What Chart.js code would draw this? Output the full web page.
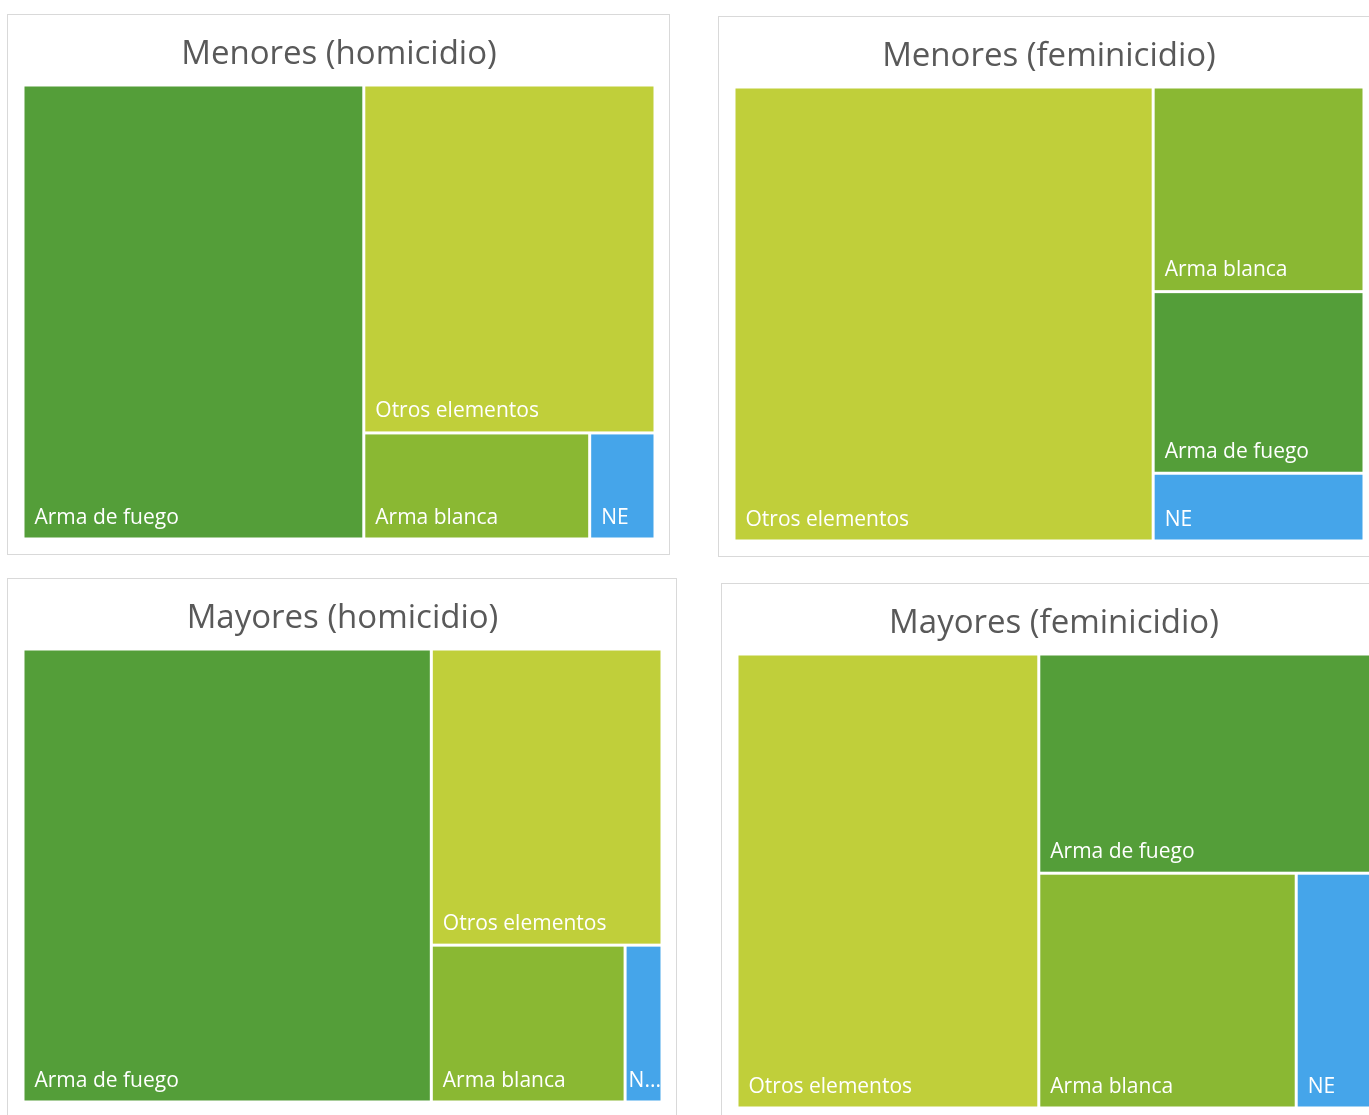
<!DOCTYPE html>
<html lang="es">
<head>
<meta charset="utf-8">
<title>Homicidios y feminicidios por tipo de arma</title>
<script src="https://cdn.jsdelivr.net/npm/chart.js@4.4.1/dist/chart.umd.min.js"></script>
<style>
  html, body { margin: 0; padding: 0; background: #fff; }
  body { width: 1369px; height: 1115px; position: relative; overflow: hidden; }
  .panel { position: absolute; border: 1px solid #d9d9d9; background: #fff; }
  .panel canvas { display: block; }
</style>
</head>
<body>
<div class="panel" style="left:7px; top:14px;"><canvas id="c1" width="661" height="539"></canvas></div>
<div class="panel" style="left:718px; top:16px;"><canvas id="c2" width="659" height="539"></canvas></div>
<div class="panel" style="left:7px; top:578px;"><canvas id="c3" width="668" height="538"></canvas></div>
<div class="panel" style="left:721px; top:583px;"><canvas id="c4" width="663" height="539"></canvas></div>

<script>
// Categorías y colores compartidos por los cuatro paneles
const categorias = ['Arma de fuego', 'Otros elementos', 'Arma blanca', 'NE'];
const colores = ['#549E39', '#C0CF3A', '#8AB833', '#45A5EA'];

// Porcentaje de casos por tipo de arma (mismo orden que categorias)
const menoresHomicidio = [53.6, 35.1, 8.3, 2.4];
const menoresFeminicidio = [13.4, 66.6, 15.1, 5.0];
const mayoresHomicidio = [63.9, 23.6, 10.5, 2.0];
const mayoresFeminicidio = [25.3, 47.6, 21.0, 6.1];

const titulos = ['Menores (homicidio)', 'Menores (feminicidio)', 'Mayores (homicidio)', 'Mayores (feminicidio)'];

const FONT = "'Open Sans', 'DejaVu Sans', sans-serif";

// peor relación de aspecto de una fila (algoritmo squarified)
function worst(row, side) {
    const s = row.reduce((a, r) => a + r.area, 0);
    let m = 0;
    row.forEach(r => {
        m = Math.max(m, (side * side * r.area) / (s * s), (s * s) / (side * side * r.area));
    });
    return m;
}

function squarify(items, w, h) {
    const total = items.reduce((a, it) => a + it.value, 0);
    let rest = items
        .map(it => ({ ...it, area: it.value * w * h / total }))
        .sort((a, b) => b.value - a.value);
    let x = 0, y = 0;
    const out = [];
    while (rest.length) {
        const side = Math.min(w, h);
        const row = [rest[0]];
        let i = 1;
        while (i < rest.length && worst(row.concat(rest[i]), side) <= worst(row, side)) {
            row.push(rest[i]);
            i++;
        }
        rest = rest.slice(row.length);
        const rowArea = row.reduce((a, r) => a + r.area, 0);
        if (w >= h) {
            const sw = rowArea / h;
            let cy = y;
            row.forEach(r => { const ch = r.area / sw; out.push({ ...r, x: x, y: cy, w: sw, h: ch }); cy += ch; });
            x += sw; w -= sw;
        } else {
            const sh = rowArea / w;
            let cx = x;
            row.forEach(r => { const cw = r.area / sh; out.push({ ...r, x: cx, y: y, w: cw, h: sh }); cx += cw; });
            y += sh; h -= sh;
        }
    }
    return out;
}

// recorta la etiqueta con "..." cuando no cabe en la celda
function fitText(ctx, text, maxW) {
    let t = text.slice(0, -1);
    while (t.length > 1 && ctx.measureText(t + '...').width > maxW) t = t.slice(0, -1);
    return t + '...';
}

// dibuja las celdas del treemap sobre las escalas x/y (0..1)
const treemapPlugin = {
    id: 'treemap',
    beforeDatasetsDraw(chart, args, opts) {
        const area = chart.chartArea;
        const xs = chart.scales.x, ys = chart.scales.y;
        const W = area.right - area.left, H = area.bottom - area.top;
        const items = opts.labels.map((l, i) => ({ label: l, value: opts.values[i], color: opts.colors[i] }));
        const cells = squarify(items, W, H);
        const ctx = chart.ctx;
        const gap = 1.5;
        ctx.save();
        cells.forEach(c => {
            const x0 = xs.getPixelForValue(c.x / W) + gap;
            const x1 = xs.getPixelForValue((c.x + c.w) / W) - gap;
            const y0 = ys.getPixelForValue(c.y / H) + gap;
            const y1 = ys.getPixelForValue((c.y + c.h) / H) - gap;
            ctx.fillStyle = c.color;
            ctx.fillRect(x0, y0, x1 - x0, y1 - y0);

            ctx.font = '21px ' + FONT;
            ctx.fillStyle = '#ffffff';
            ctx.textBaseline = 'alphabetic';
            let pad = 10;
            let txt = c.label;
            if (ctx.measureText(txt).width > (x1 - x0) - 2 * pad) {
                pad = 2;
                txt = fitText(ctx, txt, (x1 - x0) - 2 * pad);
            }
            ctx.fillText(txt, x0 + pad, y1 - 14);
        });
        ctx.restore();
    }
};

function crearPanel(id, titulo, valores) {
    new Chart(document.getElementById(id), {
        type: 'scatter',
        data: { datasets: [] },
        plugins: [treemapPlugin],
        options: {
            responsive: false,
            animation: false,
            layout: { padding: { left: 15, right: 14, top: 0, bottom: 15 } },
            scales: {
                x: { type: 'linear', min: 0, max: 1, display: false },
                y: { type: 'linear', min: 0, max: 1, reverse: true, display: false }
            },
            plugins: {
                legend: { display: false },
                tooltip: { enabled: false },
                title: {
                    display: true,
                    text: titulo,
                    color: '#595959',
                    font: { family: FONT, size: 33, weight: 'normal' },
                    padding: { top: 19.5, bottom: 10.9 }
                },
                treemap: { labels: categorias, values: valores, colors: colores }
            }
        }
    });
}

crearPanel('c1', titulos[0], menoresHomicidio);
crearPanel('c2', titulos[1], menoresFeminicidio);
crearPanel('c3', titulos[2], mayoresHomicidio);
crearPanel('c4', titulos[3], mayoresFeminicidio);
</script>
</body>
</html>
